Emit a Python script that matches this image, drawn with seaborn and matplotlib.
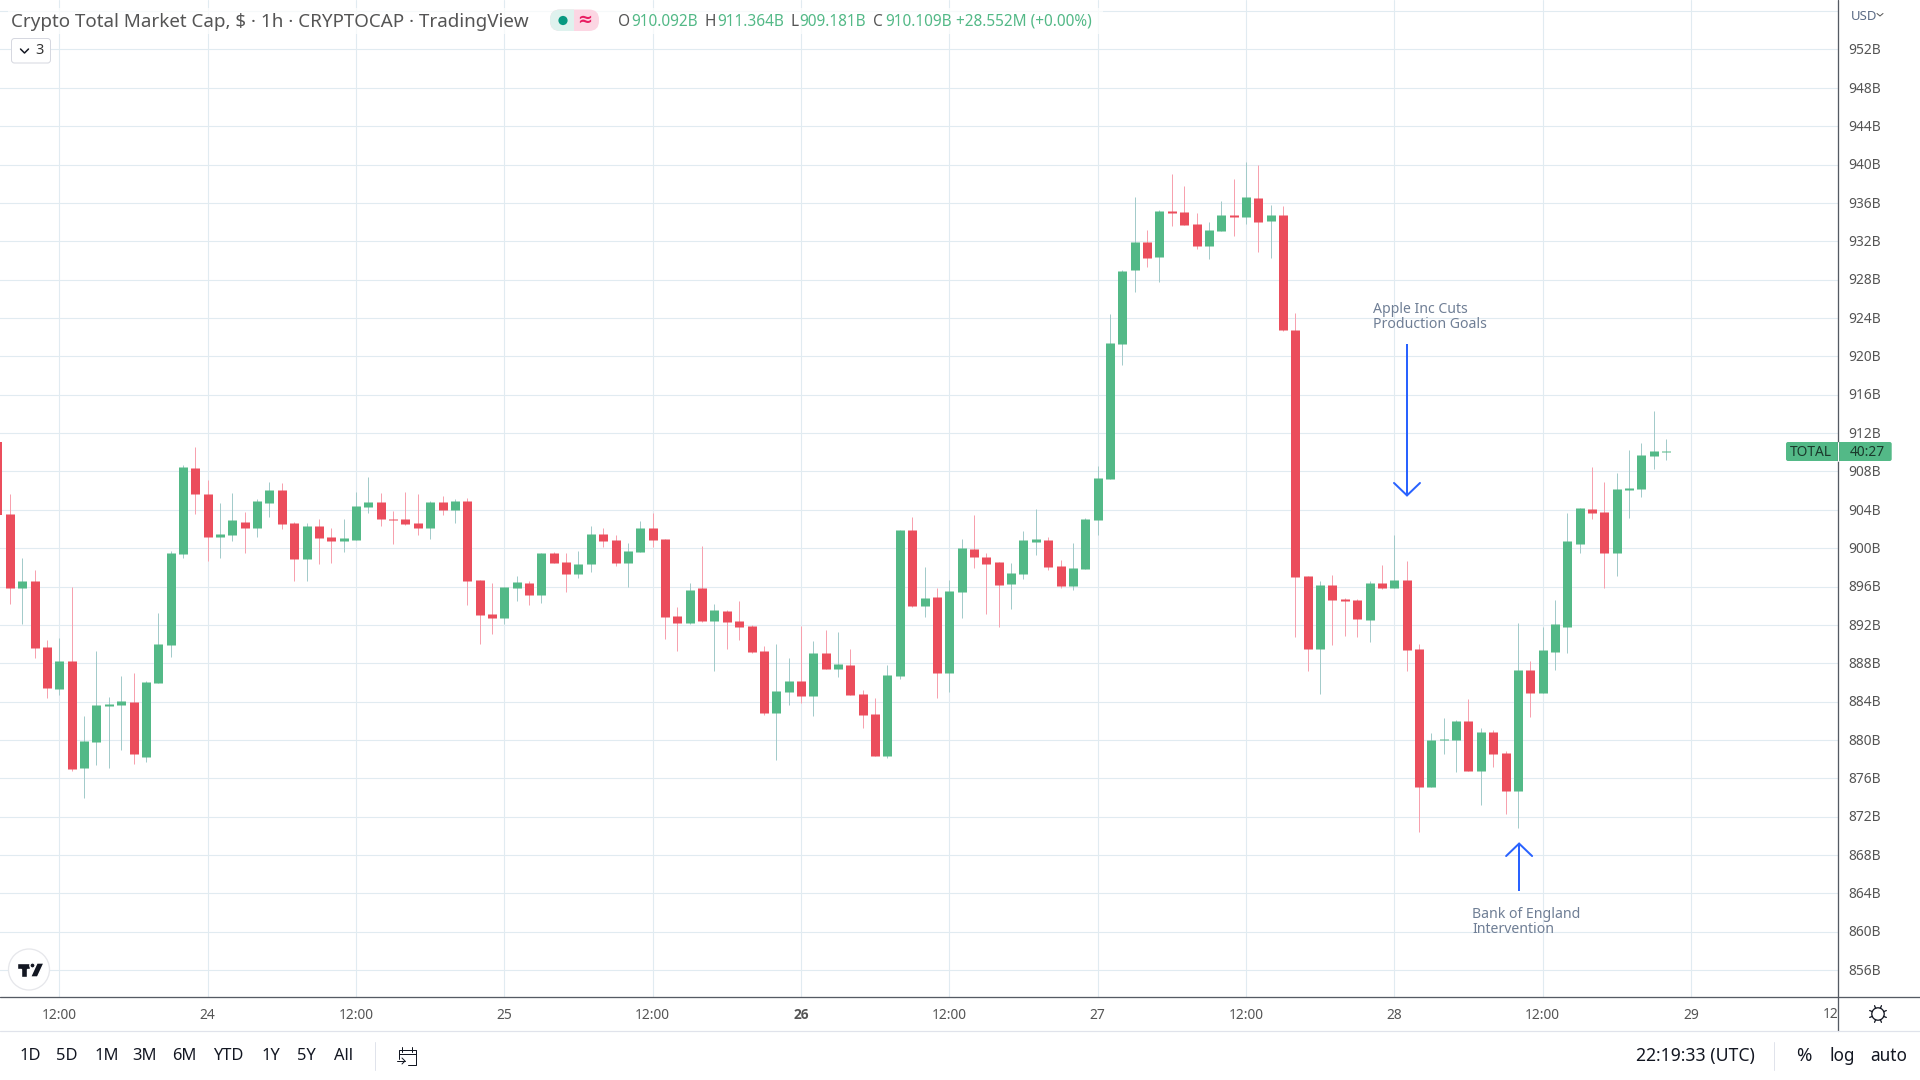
import math
import matplotlib
matplotlib.use("Agg")
import matplotlib.pyplot as plt
from matplotlib.patches import Rectangle, Circle, FancyBboxPatch, Polygon
from matplotlib.transforms import Affine2D
import numpy as np
import pandas as pd
import seaborn as sns

# ---------- data (USD billions, hourly candles, Sep 23 07:00 onward) ----------
first_hour = 7
opens = [911.1, 903.6, 895.8, 896.6, 889.7, 885.35, 888.25, 877.1, 879.8, 883.6, 883.6, 884.0,
         878.25, 885.9, 889.9, 899.4, 908.4, 905.7, 901.2, 901.4, 902.75, 902.1, 904.75, 906.1,
         902.65, 898.9, 902.35, 901.2, 900.7, 900.9, 904.3, 904.85, 903.05, 903.05, 902.65, 902.1,
         904.85, 904.0, 904.95, 896.7, 893.15, 892.75, 895.8, 896.4, 895.15, 899.5, 898.6, 897.3,
         898.4, 901.5, 900.9, 898.5, 899.6, 902.1, 901.0, 892.95, 892.2, 895.8, 892.45, 893.5,
         892.45, 891.9, 889.3, 882.85, 885.05, 886.2, 884.6, 889.1, 887.45, 887.85, 884.8, 882.7,
         878.35, 886.7, 901.9, 894.0, 894.95, 887.0, 895.4, 899.95, 899.1, 898.6, 896.3, 897.35,
         900.65, 900.85, 898.15, 896.05, 897.85, 902.95, 907.2, 921.3, 929.0, 931.9, 930.35, 935.15,
         935.05, 933.8, 931.5, 933.05, 934.7, 934.5, 936.5, 934.1, 934.7, 922.8, 897.15, 889.5,
         896.2, 894.65, 894.55, 892.55, 896.4, 895.8, 896.7, 889.5, 875.05, 879.95, 880.05, 881.95,
         876.8, 880.8, 878.6, 874.65, 887.35, 884.95, 889.2, 891.8, 900.45, 904.1, 903.8, 899.45,
         906.1, 906.2, 909.65, 910.09]
closes = [903.5, 895.8, 896.6, 889.6, 885.45, 888.25, 877.0, 879.9, 883.7, 883.7, 884.1, 878.5,
          886.0, 890.0, 899.5, 908.5, 905.6, 901.2, 901.5, 902.9, 902.1, 904.95, 906.1, 902.55,
          898.9, 902.35, 901.1, 900.7, 901.1, 904.4, 904.85, 903.0, 903.0, 902.55, 902.1, 904.85,
          904.0, 904.95, 896.6, 893.05, 892.75, 896.0, 896.5, 895.15, 899.5, 898.5, 897.3, 898.4,
          901.5, 900.8, 898.5, 899.7, 902.1, 900.9, 892.85, 892.2, 895.65, 892.45, 893.6, 892.3,
          891.8, 889.2, 882.85, 885.15, 886.1, 884.6, 889.1, 887.45, 887.95, 884.7, 882.6, 878.35,
          886.8, 901.9, 894.0, 894.8, 887.0, 895.55, 900.0, 899.1, 898.35, 896.2, 897.45, 900.85,
          901.0, 898.05, 896.05, 897.95, 903.05, 907.3, 921.4, 928.9, 931.9, 930.25, 935.15, 934.95,
          933.7, 931.5, 933.15, 934.7, 934.5, 936.6, 934.0, 934.7, 922.7, 897.0, 889.5, 896.2,
          894.55, 894.45, 892.65, 896.4, 895.8, 896.7, 889.4, 875.05, 880.05, 880.15, 881.95, 876.8,
          880.8, 878.5, 874.65, 887.35, 884.85, 889.35, 892.05, 900.7, 904.2, 903.7, 899.45, 906.2,
          906.3, 909.75, 910.15, 910.11]
highs = [911.1, 905.6, 899.0, 897.75, 890.45, 890.65, 896.0, 882.5, 889.3, 884.5, 886.7, 887.0,
         886.2, 893.2, 899.7, 908.7, 910.5, 907.1, 904.7, 905.8, 903.8, 905.15, 906.9, 906.8,
         902.75, 902.65, 903.05, 902.1, 903.0, 905.9, 907.45, 905.8, 903.9, 905.9, 905.6, 904.95,
         905.45, 905.15, 905.25, 896.7, 896.4, 896.0, 897.1, 896.6, 899.5, 899.6, 899.5, 899.7,
         902.35, 902.1, 901.4, 900.55, 902.85, 903.7, 901.0, 893.9, 896.4, 900.25, 894.2, 893.6,
         894.5, 892.0, 889.8, 890.0, 888.5, 891.9, 890.35, 891.5, 891.3, 889.5, 885.2, 884.4,
         887.85, 901.9, 903.2, 898.0, 895.8, 896.7, 901.0, 903.5, 899.5, 898.6, 898.5, 901.8,
         904.1, 901.2, 898.8, 900.55, 903.15, 908.55, 924.4, 929.0, 936.65, 933.15, 935.25, 939.0,
         937.75, 934.95, 934.0, 936.2, 938.5, 940.25, 939.95, 935.75, 935.65, 924.5, 897.15, 896.6,
         897.25, 894.85, 894.65, 896.6, 898.2, 901.4, 898.7, 890.05, 880.7, 882.25, 882.05, 884.3,
         881.3, 881.0, 878.9, 892.15, 888.2, 891.8, 894.55, 903.7, 904.2, 908.5, 906.95, 907.85,
         910.25, 911.0, 914.35, 911.36]
lows = [903.5, 894.2, 892.1, 888.5, 884.4, 884.7, 876.8, 873.9, 877.4, 877.1, 879.0, 877.5,
        877.7, 885.9, 888.7, 899.0, 903.6, 898.7, 899.0, 900.7, 899.5, 901.2, 903.2, 902.0,
        896.6, 896.6, 898.4, 898.5, 899.6, 900.9, 903.7, 902.35, 900.45, 902.45, 901.4, 901.0,
        903.5, 902.65, 894.1, 890.0, 891.0, 892.1, 894.5, 894.1, 894.3, 898.5, 895.45, 896.9,
        897.55, 900.15, 898.15, 896.0, 899.6, 900.15, 890.55, 889.3, 892.1, 892.3, 887.2, 889.5,
        890.45, 889.1, 882.6, 877.95, 883.7, 883.9, 882.5, 887.45, 886.6, 884.7, 881.3, 878.35,
        878.15, 886.4, 893.9, 892.85, 884.4, 885.0, 892.75, 897.95, 893.15, 891.8, 893.7, 896.8,
        899.3, 897.75, 895.85, 895.65, 897.85, 901.4, 907.2, 919.1, 926.7, 929.3, 927.75, 933.6,
        933.7, 931.2, 930.15, 933.05, 932.55, 933.8, 930.85, 930.25, 922.6, 890.7, 887.15, 884.75,
        889.95, 890.8, 890.7, 890.25, 895.7, 895.8, 887.15, 870.4, 875.05, 878.5, 876.7, 876.8,
        873.2, 877.15, 872.25, 870.8, 882.35, 884.95, 887.35, 889.1, 899.45, 903.0, 895.9, 897.15,
        903.1, 905.35, 908.3, 909.18]

price_ticks = list(range(856, 957, 4))
price_labels = [f"{p}B" if p != 956 else "" for p in price_ticks]
time_ticks = [12, 24, 36, 48, 60, 72, 84, 96, 108, 120, 132, 144]
time_labels = ["12:00", "24", "12:00", "25", "12:00", "26", "12:00", "27", "12:00", "28", "12:00", "29"]
range_labels = ["1D", "5D", "1M", "3M", "6M", "YTD", "1Y", "5Y", "All"]

UP, DOWN = "#53b987", "#eb4d5c"
UP_WICK, DOWN_WICK = "#a3cbca", "#f7a1ae"
GRID = "#e1ebf1"
AXIS = "#555a63"
FONT = "Noto Sans"
PX = 0.72  # points per pixel at dpi 100
TICK_PX = 13.8

sns.set_theme(style="white")
plt.rcParams["font.family"] = [FONT, "DejaVu Sans"]

hours = first_hour + np.arange(len(opens))
direction = ["up" if c >= o else "down" for o, c in zip(opens, closes)]
wicks = pd.DataFrame({"hour": np.r_[hours, hours], "price": lows + highs, "dir": direction * 2})
# a candle body never draws thinner than one pixel (about 0.1B)
o_arr, c_arr = np.array(opens), np.array(closes)
mid = (o_arr + c_arr) / 2
half = np.maximum(np.abs(o_arr - c_arr) / 2, 0.055)
bodies = pd.DataFrame({"hour": np.r_[hours, hours], "price": np.r_[mid - half, mid + half], "dir": direction * 2})

fig = plt.figure(figsize=(19.2, 10.8), dpi=100, facecolor="white")
# the axes starts left of the canvas so that the first, cut-off candle still draws
ax = fig.add_axes([-20 / 1920, (1080 - 997.3) / 1080, 1858 / 1920, 997.3 / 1080])
ax.set_xlim(5.58, 155.9)
ax.set_ylim(853.17, 957.16)
ax.set_xticks(time_ticks, time_labels)
ax.set_yticks(price_ticks, price_labels)
ax.yaxis.tick_right()
ax.grid(True, color=GRID, lw=1.1 * PX)
ax.set_axisbelow(True)
ax.tick_params(axis="x", length=0, pad=10.5 * PX, labelsize=TICK_PX * PX, labelcolor="#555555")
ax.tick_params(axis="y", length=0, pad=10.5 * PX, labelsize=TICK_PX * PX, labelcolor="#555555")
for s in ax.spines.values():
    s.set_visible(False)
for lab in ax.get_yticklabels():
    lab.set_ha("left")
    lab.set_va("center")
    lab.set_transform(lab.get_transform() + Affine2D().translate(0, -1.2))

sns.lineplot(data=wicks, x="hour", y="price", units="hour", hue="dir", estimator=None, sort=False,
             palette={"up": UP_WICK, "down": DOWN_WICK}, lw=1.0 * PX, legend=False, ax=ax,
             solid_capstyle="butt")
sns.lineplot(data=bodies, x="hour", y="price", units="hour", hue="dir", estimator=None, sort=False,
             palette={"up": UP, "down": DOWN}, lw=9 * PX, legend=False, ax=ax,
             solid_capstyle="butt")
# the first candle's centre lies off the canvas, where stroked lines are dropped: fill it instead
ax.bar(hours[0], opens[0] - closes[0], bottom=closes[0], width=9 / 12.36, color=DOWN, lw=0)
ax.set_xlabel("")
ax.set_ylabel("")
for lab in ax.get_xticklabels():
    if lab.get_text() == "26":
        lab.set_fontfamily("Open Sans")
        lab.set_fontweight("bold")

# annotations in data coordinates
BLUE = "#2962ff"
for hx, start, tip, sgn in [(121.03, 921.3, 905.5, 1), (130.1, 864.3, 869.2, -1)]:
    ax.plot([hx, hx], [start, tip], color=BLUE, lw=2 * PX, solid_capstyle="butt")
    ax.plot([hx - 1.05, hx, hx + 1.05], [tip + sgn * 1.3, tip, tip + sgn * 1.3], color=BLUE,
            lw=2 * PX, solid_joinstyle="miter")
NOTE = "#6f7e95"
ax.text(118.3, 924.1, "Apple Inc Cuts\nProduction Goals", color=NOTE, fontsize=14.1 * PX,
        va="center", ha="left", linespacing=1.0)
ax.text(126.3, 861.0, "Bank of England\nIntervention", color=NOTE, fontsize=14.1 * PX,
        va="center", ha="left", linespacing=1.0)

# ---------- overlay in pixel coordinates for the TradingView chrome ----------
ov = fig.add_axes([0, 0, 1, 1], zorder=5)
ov.set_xlim(0, 1920)
ov.set_ylim(1080, 0)
ov.axis("off")
ov.patch.set_alpha(0)


def txt(x, y, s, size=14, color="#131722", ha="left", **kw):
    return ov.text(x, y, s, fontsize=size * PX, color=color, ha=ha, va="center", **kw)


# frame lines
ov.plot([0, 1920], [997, 997], color=AXIS, lw=1.3 * PX)
ov.plot([1838, 1838], [0, 1031], color=AXIS, lw=1.3 * PX)
ov.plot([0, 1920], [1031, 1031], color="#e0e3eb", lw=1.2 * PX)
ov.plot([375, 375], [1042, 1070], color="#e0e3eb", lw=1 * PX)
ov.plot([1774, 1774], [1042, 1070], color="#e0e3eb", lw=1 * PX)

# clipped last time label
clipped = txt(1840, 1014, "12:00", size=TICK_PX, color="#555555", ha="center")
clipped.set_clip_path(Rectangle((0, 0), 1838, 1080, transform=ov.transData))
clipped.set_clip_on(True)

# legend header
ov.add_patch(Rectangle((8, 8), 1095, 26, fc="white", ec="none", alpha=0.7))
txt(11, 22, "Crypto Total Market Cap, $ · 1h · CRYPTOCAP · TradingView", size=18.8, color="#555555")
pill = FancyBboxPatch((550, 9.5), 49, 21.5, boxstyle="round,pad=0,rounding_size=10", fc="#fcd6e3", ec="none")
ov.add_patch(pill)
pill2 = FancyBboxPatch((550, 9.5), 49, 21.5, boxstyle="round,pad=0,rounding_size=10", fc="#dff2ee", ec="none")
ov.add_patch(pill2)
pill2.set_clip_path(Rectangle((540, 0), 33.5, 50, transform=ov.transData))
ov.add_patch(Circle((563, 20.5), 4.6, fc="#089981", ec="none"))
txt(585, 20, "≈", size=18, color="#e91e63", ha="center", fontweight="bold")
for x0, letter, value in [(618, "O", "910.092B"), (704, "H", "911.364B"), (790, "L", "909.181B"), (873, "C", "910.109B")]:
    txt(x0, 22, letter, size=15.4, color="#555555")
    txt(x0 + {"O": 13, "H": 13, "L": 9, "C": 12}[letter], 22, value, size=15.4, color=UP)
txt(956, 22, "+28.552M (+0.00%)", size=15.4, color=UP)

ov.add_patch(FancyBboxPatch((11.5, 38.5), 39, 24.5, boxstyle="round,pad=0,rounding_size=3", fc="white",
                            ec="#d6d8e0", lw=1 * PX))
ov.plot([20.5, 24.5, 28.5], [49, 53, 49], color="#131722", lw=1.5 * PX)
txt(40, 51, "3", size=14.5, color="#333333", ha="center")

# logo
ov.add_patch(Circle((29, 969.5), 20.5, fc="white", ec="#e6e7eb", lw=1.3 * PX))
ov.add_patch(Polygon([(16.5, 963), (30, 963), (30, 968.5), (27, 968.5), (27, 977), (21, 977), (21, 968.5), (16.5, 968.5)], fc="#131722"))
ov.add_patch(Circle((32.5, 965.5), 2.6, fc="#131722"))
ov.add_patch(Polygon([(37, 963), (44, 963), (37.5, 977), (30.5, 977)], fc="#131722"))

# range buttons
range_x = [30, 67, 106.5, 144.5, 184, 228, 270.6, 306, 344]
for x0, lab in zip(range_x, range_labels):
    txt(x0, 1056, lab, size=16.5, ha="center")

# calendar icon
ov.plot([398.5, 398.5, 415.5, 415.5, 408], [1059, 1050, 1050, 1065, 1065], color="#131722", lw=1 * PX)
ov.plot([398.5, 415.5], [1054, 1054], color="#131722", lw=1 * PX)
ov.plot([402, 402], [1047, 1052], color="#131722", lw=1 * PX)
ov.plot([412, 412], [1047, 1052], color="#131722", lw=1 * PX)
ov.plot([397, 405], [1061, 1061], color="#131722", lw=1 * PX)
ov.plot([402, 405, 402], [1058, 1061, 1064], color="#131722", lw=1 * PX)

# right-hand bottom controls
txt(1636, 1056, "22:19:33 (UTC)", size=17.6)
txt(1804, 1056, "%", size=18.5, ha="center")
txt(1842, 1056, "log", size=17.2, ha="center")
txt(1889, 1056, "auto", size=17.2, ha="center")

# gear
ov.add_patch(Circle((1878, 1014), 6.2, fc="white", ec="#131722", lw=1.3 * PX))
for a in np.arange(0, 360, 45):
    ca, sa = math.cos(math.radians(a + 22.5)), math.sin(math.radians(a + 22.5))
    ov.plot([1878 + 6.2 * ca, 1878 + 9 * ca], [1014 + 6.2 * sa, 1014 + 9 * sa], color="#131722", lw=1.3 * PX)

# currency and last-price tag
txt(1851, 16, "USD", size=13.2, color="#5b6b85")
ov.plot([1877, 1880, 1883], [13.5, 16, 13.5], color="#555555", lw=1 * PX)
ov.add_patch(FancyBboxPatch((1786, 442), 105.7, 19, boxstyle="round,pad=0,rounding_size=2", fc=UP, ec="none"))
ov.plot([1837.5, 1837.5], [442, 461], color="white", lw=1 * PX)
txt(1811, 452, "TOTAL", size=13.8, color="#1b3a2c", ha="center")
txt(1867, 452, "40:27", size=13.8, color="#1b3a2c", ha="center")

fig.savefig("out.png", dpi=100)
